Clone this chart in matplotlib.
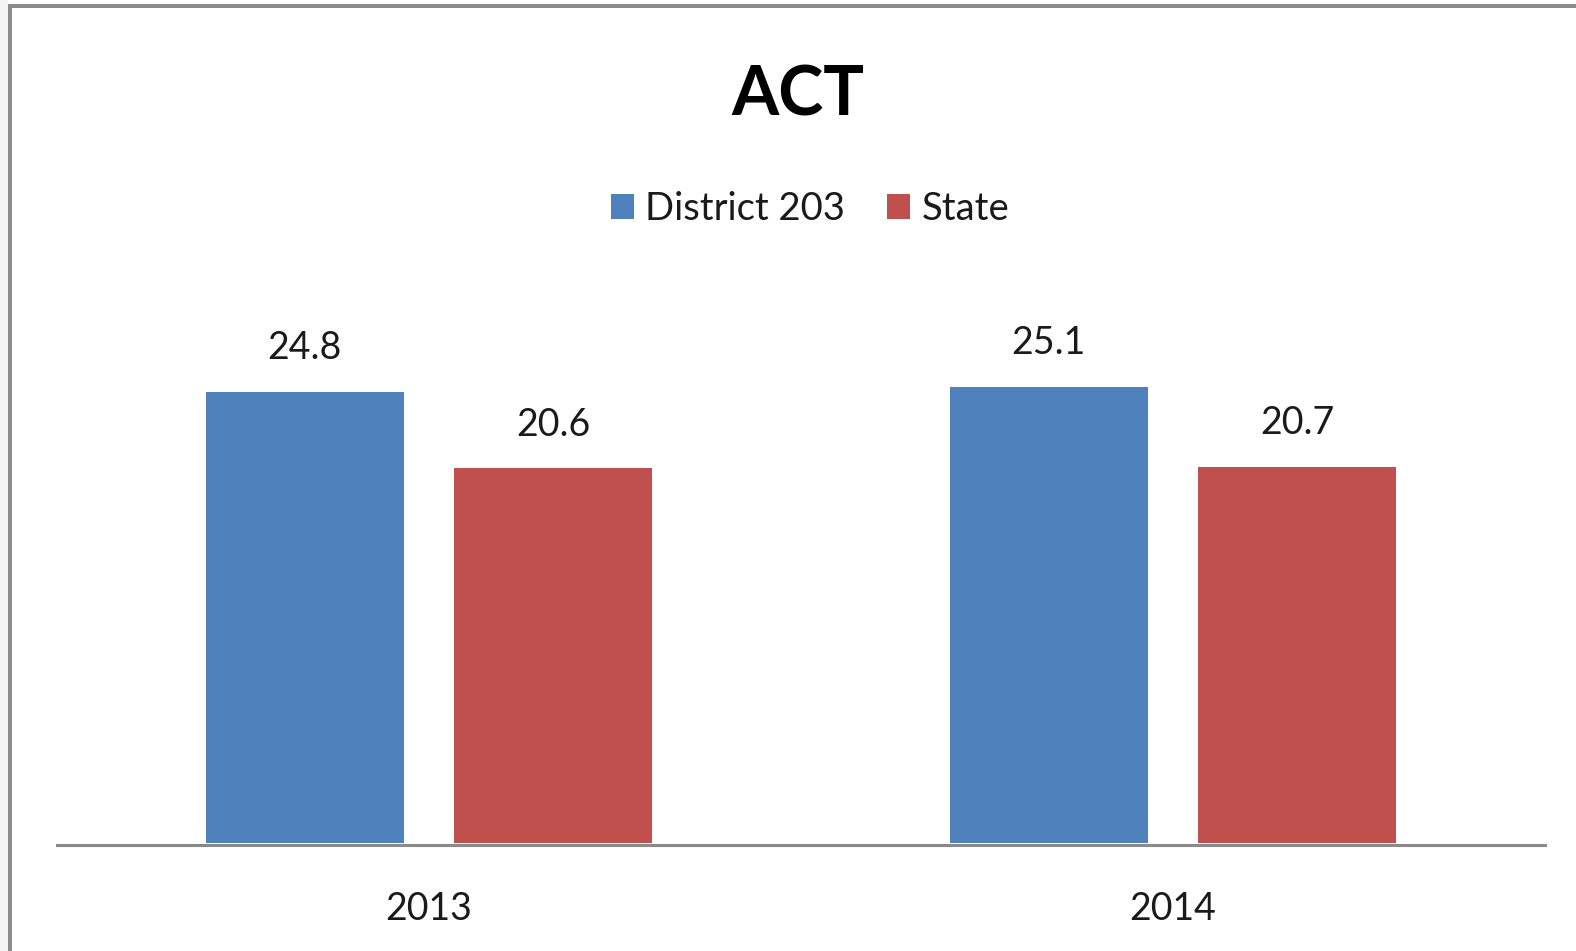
import matplotlib.pyplot as plt
import numpy as np
from matplotlib.patches import Rectangle, Patch

plt.rcParams['font.family'] = ['Lato', 'DejaVu Sans']

years = ['2013', '2014']
district = [24.8, 25.1]
state = [20.6, 20.7]
series_names = ['District 203', 'State']
colors = ['#4F81BD', '#C0504D']

W, H = 1576, 951
fig = plt.figure(figsize=(W / 100, H / 100), dpi=100)

# frame around the chart (left + top gray edges, light strip at far left)
fig.patches.append(Rectangle((0, 0), 8 / W, 1, transform=fig.transFigure,
                             facecolor='#f3f3f3', edgecolor='none', zorder=0))
fig.patches.append(Rectangle((8 / W, 0), 4 / W, 1 - 4 / H, transform=fig.transFigure,
                             facecolor='#8c8c8c', edgecolor='none', zorder=1))
fig.patches.append(Rectangle((8 / W, 1 - 8 / H), 1, 4 / H, transform=fig.transFigure,
                             facecolor='#8c8c8c', edgecolor='none', zorder=1))

ax = fig.add_axes([57 / W, 106 / H, 1488 / W, 547.4 / H])

x = np.arange(len(years))
width = 0.266
off = 0.167
b1 = ax.bar(x - off, district, width, color=colors[0], label=series_names[0])
b2 = ax.bar(x + off, state, width, color=colors[1], label=series_names[1])

for bars in (b1, b2):
    ax.bar_label(bars, labels=[f'{v:.1f}' for v in bars.datavalues],
                 padding=18.5, fontsize=27, color='#1a1a1a')

ax.set_xlim(-0.5, len(years) - 0.5)
ax.set_ylim(-0.11, 30)
ax.set_xticks(x)
ax.set_xticklabels(years, fontsize=27, color='#1a1a1a')
ax.tick_params(axis='x', length=0, pad=33)
ax.set_yticks([])
for s in ('top', 'right', 'left'):
    ax.spines[s].set_visible(False)
ax.spines['bottom'].set_color('#8a8a8a')
ax.spines['bottom'].set_linewidth(2.2)

fig.text(798 / W, 1 - 115 / H, 'ACT', ha='center', va='baseline',
         fontsize=49, fontweight='bold', color='black')

handles = [Patch(facecolor=c, edgecolor='none') for c in colors]
fig.legend(handles, series_names, loc='center', ncol=2, frameon=False,
           bbox_to_anchor=(810 / W, 1 - 209 / H), fontsize=27.5,
           handlelength=0.6, handleheight=0.66, handletextpad=0.3,
           columnspacing=1.1, labelcolor='#1a1a1a')

fig.savefig('out.png', dpi=100)
